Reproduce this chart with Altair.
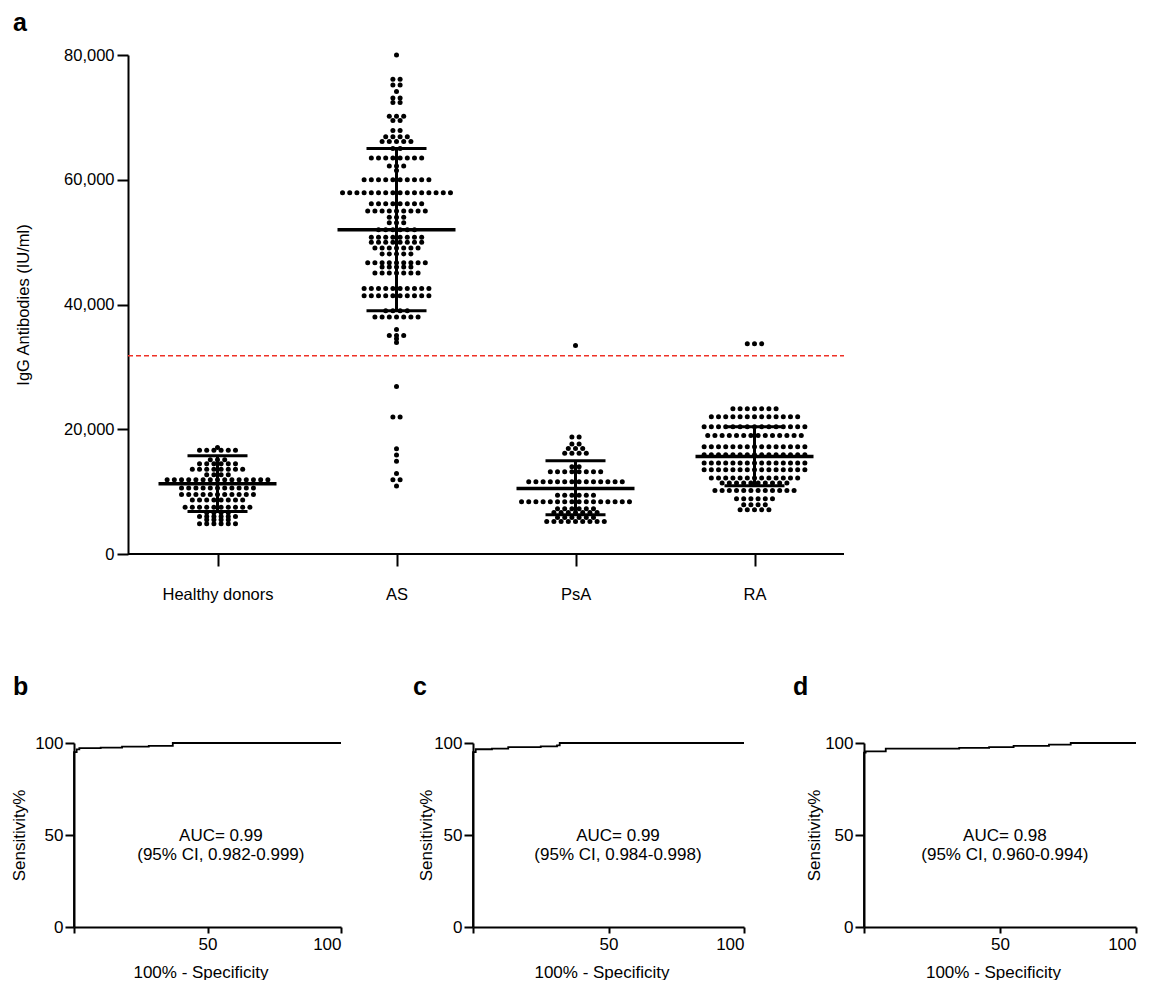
import json
import altair as alt
import pandas as pd

FONT = "Liberation Sans"

categories = ["Healthy donors", "AS", "PsA", "RA"]
panel_labels = ["a", "b", "c", "d"]

# (IgG level in IU/ml, number of dots read at that level)
healthy_rows = [(17080, 1), (16630, 6), (15100, 3), (14450, 6), (13600, 8), (12700, 4),
                (11900, 15), (10600, 11), (9550, 11), (8650, 8), (7500, 10), (6600, 4),
                (6030, 6), (5500, 4), (4850, 6)]
as_rows = [(80000, 1), (76100, 2), (75200, 2), (74150, 1), (73100, 2), (72400, 2),
           (70200, 3), (69500, 2), (67900, 2), (66900, 4), (66150, 5), (65000, 2),
           (63500, 8), (62200, 3), (61500, 1), (60000, 10), (57900, 16), (56150, 8),
           (55000, 9), (54000, 3), (53100, 3), (52000, 6), (50800, 8), (50000, 8),
           (49050, 7), (48100, 5), (46700, 9), (46000, 5), (45050, 7), (42550, 10),
           (41400, 10), (39000, 4), (38000, 7), (36000, 1), (35050, 3), (34500, 1),
           (33900, 1), (26850, 1), (21950, 2), (16870, 1), (15870, 1), (14850, 1),
           (12920, 1), (11900, 2), (10900, 1)]
psa_rows = [(33430, 1), (18750, 2), (17650, 2), (16900, 3), (16150, 4), (14000, 2),
            (13200, 8), (11600, 14), (9400, 6), (8380, 16), (7260, 6), (6670, 7),
            (5870, 6), (5200, 9)]
ra_rows = [(33700, 3), (23300, 7), (22000, 13), (20400, 15), (19000, 14), (17200, 15),
           (15900, 15), (14600, 15), (13500, 15), (12200, 13), (11400, 10), (10200, 12),
           (8860, 6), (7900, 4), (7100, 5)]

means = [11270, 52000, 10500, 15640]
sd_upper = [15750, 65000, 14950, 20400]
sd_lower = [6830, 39000, 6300, 10950]
cutoff = 31800

roc_b_fpr = [0, 0, 1, 2, 10, 18, 28, 37, 100]
roc_b_sens = [0, 95, 96.5, 97.2, 97.5, 98.0, 98.4, 100, 100]
roc_c_fpr = [0, 0, 1, 7, 13, 25, 31, 32, 100]
roc_c_sens = [0, 95, 96.6, 96.9, 97.8, 98.2, 98.7, 100, 100]
roc_d_fpr = [0, 0, 0.6, 8, 35, 46, 55, 68, 76, 100]
roc_d_sens = [0, 94.8, 95.5, 96.9, 97.3, 97.8, 98.4, 99.1, 100, 100]

auc_b = ["AUC= 0.99", "(95% CI, 0.982-0.999)"]
auc_c = ["AUC= 0.99", "(95% CI, 0.984-0.998)"]
auc_d = ["AUC= 0.98", "(95% CI, 0.960-0.994)"]

# ---------------- panel a ----------------
recs = []
for cat, rows in zip(categories, [healthy_rows, as_rows, psa_rows, ra_rows]):
    for v, n in rows:
        for _ in range(n):
            recs.append({"group": cat, "value": v})
dots_df = pd.DataFrame(recs)
stats_df = pd.DataFrame({"group": categories, "mean": means, "upper": sd_upper, "lower": sd_lower})

cat_js = json.dumps(categories)
idx_expr = f"indexof({cat_js}, datum.group)"

WA, HA = 770, 499          # plot area of panel a (shares its left edge with panel b)
SHIFT = 54                 # y axis of panel a sits this many px right of that edge
unit_px = (WA - SHIFT) / 4.0
xscale = alt.Scale(domain=[-0.5 - SHIFT / unit_px, 3.5], nice=False, zero=False)
yscale = alt.Scale(domain=[0, 80000], nice=False)

x_axis_a = alt.Axis(values=[0, 1, 2, 3], labelExpr=f"{cat_js}[datum.value]", title=None,
                    domain=False, tickSize=12, labelPadding=20, labelFontSize=16.5)
y_axis_a = alt.Axis(values=[0, 20000, 40000, 60000, 80000], labelExpr="format(datum.value, ',')",
                    tickSize=11, labelPadding=3, labelFontSize=16.5, offset=-SHIFT,
                    title="IgG Antibodies (IU/ml)", titleFontSize=16.5, titlePadding=32)


def XA(field=None, datum=None):
    if datum is not None:
        return alt.X(datum=datum, scale=xscale, axis=x_axis_a)
    return alt.X(field, scale=xscale, axis=x_axis_a)


def YA(field=None, datum=None):
    if datum is not None:
        return alt.Y(datum=datum, scale=yscale, axis=y_axis_a)
    return alt.Y(field, scale=yscale, axis=y_axis_a)


dots = (
    alt.Chart(dots_df)
    .transform_calculate(idx=idx_expr)
    .transform_window(slot="row_number()", groupby=["group", "value"])
    .transform_joinaggregate(n="count()", groupby=["group", "value"])
    .transform_calculate(xpos="datum.idx + (datum.slot - (datum.n + 1) / 2) * 0.0402")
    .mark_circle(size=25, color="black", opacity=1)
    .encode(x=XA("xpos:Q"), y=YA("value:Q"))
)

stats = alt.Chart(stats_df).transform_calculate(idx=idx_expr)
vrule = stats.mark_rule(color="black", strokeWidth=3).encode(
    x=XA("idx:Q"), y=YA("lower:Q"), y2="upper:Q")
mean_tick = stats.mark_tick(orient="horizontal", size=118, thickness=3.5, color="black", opacity=1).encode(
    x=XA("idx:Q"), y=YA("mean:Q"))
up_tick = stats.mark_tick(orient="horizontal", size=60, thickness=3, color="black", opacity=1).encode(
    x=XA("idx:Q"), y=YA("upper:Q"))
low_tick = stats.mark_tick(orient="horizontal", size=60, thickness=3, color="black", opacity=1).encode(
    x=XA("idx:Q"), y=YA("lower:Q"))

x_line = alt.Chart(pd.DataFrame({"k": [0]})).mark_rule(color="black", strokeWidth=2).encode(
    x=XA(datum=-0.5), x2=alt.X2(datum=3.5), y=YA(datum=0))
cut = alt.Chart(pd.DataFrame({"k": [0]})).mark_rule(
    color="#ee3126", strokeDash=[5, 3], strokeWidth=1.5).encode(
    x=XA(datum=-0.5), x2=alt.X2(datum=3.5), y=YA(datum=cutoff))

lab_a = alt.Chart(pd.DataFrame({"t": [panel_labels[0]]})).mark_text(
    align="left", baseline="alphabetic", fontSize=25, fontWeight="bold", font=FONT, color="black"
).encode(x=alt.value(-61), y=alt.value(-24), text="t:N")

top = alt.layer(dots, x_line, cut, vrule, mean_tick, up_tick, low_tick, lab_a).properties(width=WA, height=HA)

# ---------------- ROC panels ----------------
H = 184


def roc_panel(letter, fpr, sens, texts, text_x, ypad, label_x, W):
    df = pd.DataFrame({"fpr": fpr, "sens": sens, "order": list(range(len(fpr)))})
    xa = alt.Axis(values=[0, 50, 100], labelExpr="datum.value == 0 ? '' : datum.label",
                  tickSize=6, labelPadding=3, labelFontSize=17, title="100% - Specificity",
                  titleFontSize=17, titlePadding=12, titleX=W / 2 - 7)
    ya = alt.Axis(values=[0, 50, 100], tickSize=9, labelPadding=2, labelFontSize=17,
                  title="Sensitivity%", titleFontSize=17, titlePadding=ypad)
    xs = alt.Scale(domain=[0, 100], nice=False)
    ys = alt.Scale(domain=[0, 100], nice=False)
    line = alt.Chart(df).mark_line(interpolate="step-after", color="black", strokeWidth=1.8).encode(
        x=alt.X("fpr:Q", scale=xs, axis=xa),
        y=alt.Y("sens:Q", scale=ys, axis=ya),
        order="order:Q")
    tdf = pd.DataFrame({"t": texts, "fpr": [text_x, text_x], "sens": [46.5, 36.2]})
    txt = alt.Chart(tdf).mark_text(fontSize=17, font=FONT, color="black", align="center",
                                   baseline="alphabetic").encode(
        x=alt.X("fpr:Q", scale=xs, axis=xa), y=alt.Y("sens:Q", scale=ys, axis=ya), text="t:N")
    lab = alt.Chart(pd.DataFrame({"t": [letter]})).mark_text(
        align="left", baseline="alphabetic", fontSize=25, fontWeight="bold", font=FONT, color="black"
    ).encode(x=alt.value(label_x), y=alt.value(-48), text="t:N")
    return alt.layer(line, txt, lab).properties(width=W, height=H)


pb = roc_panel(panel_labels[1], roc_b_fpr, roc_b_sens, auc_b, 55, 6, -61, 267)
pc = roc_panel(panel_labels[2], roc_c_fpr, roc_c_sens, auc_c, 53.5, -2, -60, 271)
pd_ = roc_panel(panel_labels[3], roc_d_fpr, roc_d_sens, auc_d, 51.8, 1, -71, 272)

bottom = alt.hconcat(pb, alt.hconcat(pc, pd_, spacing=45), spacing=68)

chart = (
    alt.concat(top, bottom, columns=1, spacing=72)
    .properties(padding={"left": 2, "top": 3, "right": 0, "bottom": 0})
    .configure_view(stroke=None)
    .configure_axis(domainColor="black", tickColor="black", labelColor="black", titleColor="black",
                    domainWidth=2, tickWidth=2, grid=False, labelFont=FONT, titleFont=FONT,
                    titleFontWeight="normal")
    .configure_text(font=FONT)
)

chart.save("out.html", embed_options={"renderer": "svg", "actions": False})
